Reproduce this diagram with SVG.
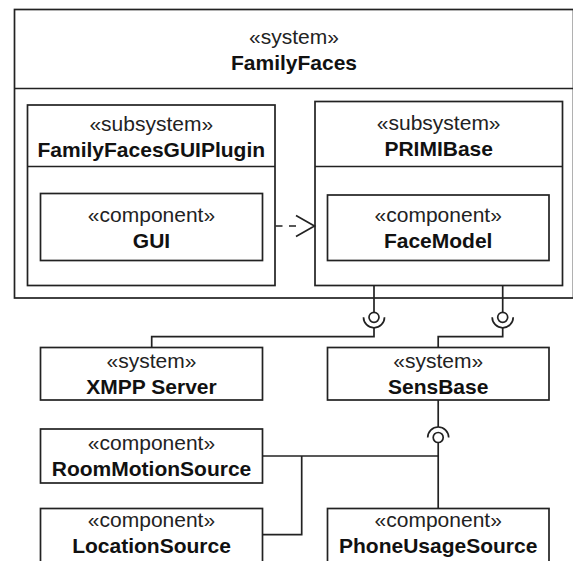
<svg xmlns="http://www.w3.org/2000/svg" width="573" height="561" viewBox="0 0 573 561">
<style>
.box{fill:#fff;stroke:#222;stroke-width:1.7}
.ln{fill:none;stroke:#222;stroke-width:1.7}
.st{font-family:"Liberation Sans",Arial,sans-serif;font-size:21px;fill:#222;text-anchor:middle}
.nm{font-family:"Liberation Sans",Arial,sans-serif;font-size:21px;font-weight:bold;fill:#111;text-anchor:middle}
</style>
<defs>
<marker id="open" markerUnits="userSpaceOnUse" viewBox="0 0 22 24" refX="20" refY="12" markerWidth="22" markerHeight="24" orient="auto">
<path d="M1.5,1.5 L20,12 L1.5,22.5" fill="none" stroke="#222" stroke-width="1.7"/>
</marker>
</defs>
<rect width="573" height="561" fill="#fff"/>
<g id="FamilyFaces">
<rect class="box" x="14.5" y="9.5" width="559" height="288.5"/>
<line class="ln" x1="14.5" y1="88.5" x2="573.5" y2="88.5"/>
<text class="st" x="294" y="43.5">«system»</text>
<text class="nm" x="294" y="69.5">FamilyFaces</text>
</g>
<g id="FamilyFacesGUIPlugin">
<rect class="box" x="27.5" y="105" width="247.5" height="180.5"/>
<line class="ln" x1="27.5" y1="166.5" x2="275" y2="166.5"/>
<text class="st" x="151.3" y="130.5">«subsystem»</text>
<text class="nm" x="151.3" y="156.5">FamilyFacesGUIPlugin</text>
</g>
<g id="GUI">
<rect class="box" x="40.5" y="193.5" width="222" height="67"/>
<text class="st" x="151.5" y="222">«component»</text>
<text class="nm" x="151.5" y="248">GUI</text>
</g>
<g id="PRIMIBase">
<rect class="box" x="315" y="101.5" width="247.5" height="184"/>
<line class="ln" x1="315" y1="166.5" x2="562.5" y2="166.5"/>
<text class="st" x="438.7" y="129.5">«subsystem»</text>
<text class="nm" x="438.7" y="155.5">PRIMIBase</text>
</g>
<g id="FaceModel">
<rect class="box" x="327.5" y="195" width="221.5" height="65.5"/>
<text class="st" x="438.2" y="222">«component»</text>
<text class="nm" x="438.2" y="248">FaceModel</text>
</g>
<g id="XMPPServer">
<rect class="box" x="40.5" y="347.5" width="222" height="52.5"/>
<text class="st" x="151.5" y="367.5">«system»</text>
<text class="nm" x="151.5" y="393.5">XMPP Server</text>
</g>
<g id="SensBase">
<rect class="box" x="327.5" y="347.5" width="221.5" height="52.5"/>
<text class="st" x="438.2" y="367.5">«system»</text>
<text class="nm" x="438.2" y="393.5">SensBase</text>
</g>
<g id="RoomMotionSource">
<rect class="box" x="40.5" y="429" width="222" height="54"/>
<text class="st" x="151.5" y="449.5">«component»</text>
<text class="nm" x="151.5" y="476">RoomMotionSource</text>
</g>
<g id="LocationSource">
<rect class="box" x="40.5" y="508.5" width="222" height="54"/>
<text class="st" x="151.5" y="527">«component»</text>
<text class="nm" x="151.5" y="553">LocationSource</text>
</g>
<g id="PhoneUsageSource">
<rect class="box" x="327.5" y="508.5" width="221.5" height="54"/>
<text class="st" x="438.2" y="527">«component»</text>
<text class="nm" x="438.2" y="553">PhoneUsageSource</text>
</g>
<g id="connectors">
<line class="ln" x1="275.5" y1="226" x2="314.5" y2="226" stroke-dasharray="7 6.5 7 40" marker-end="url(#open)"/>
<!-- PRIMIBase to XMPP -->
<line class="ln" x1="374" y1="285.5" x2="374" y2="312.3"/>
<circle class="ln" cx="374" cy="317.3" r="5"/>
<path class="ln" d="M363.5,317.3 A10.5,10.5 0 0 0 384.5,317.3"/>
<polyline class="ln" points="374,327.8 374,336.7 151.7,336.7 151.7,347.5"/>
<!-- PRIMIBase to SensBase -->
<line class="ln" x1="502.7" y1="285.5" x2="502.7" y2="312.3"/>
<circle class="ln" cx="502.7" cy="317.3" r="5"/>
<path class="ln" d="M492.2,317.3 A10.5,10.5 0 0 0 513.2,317.3"/>
<polyline class="ln" points="502.7,327.8 502.7,336.7 438.2,336.7 438.2,347.5"/>
<!-- SensBase to sources -->
<line class="ln" x1="438.2" y1="400" x2="438.2" y2="427"/>
<path class="ln" d="M427.7,437.5 A10.5,10.5 0 0 1 448.7,437.5"/>
<circle class="ln" cx="438.2" cy="437.5" r="5"/>
<line class="ln" x1="438.2" y1="442.5" x2="438.2" y2="508.5"/>
<line class="ln" x1="262.5" y1="456" x2="438.2" y2="456"/>
<polyline class="ln" points="301.7,456 301.7,534.7 262.5,534.7"/>
</g>
</svg>
